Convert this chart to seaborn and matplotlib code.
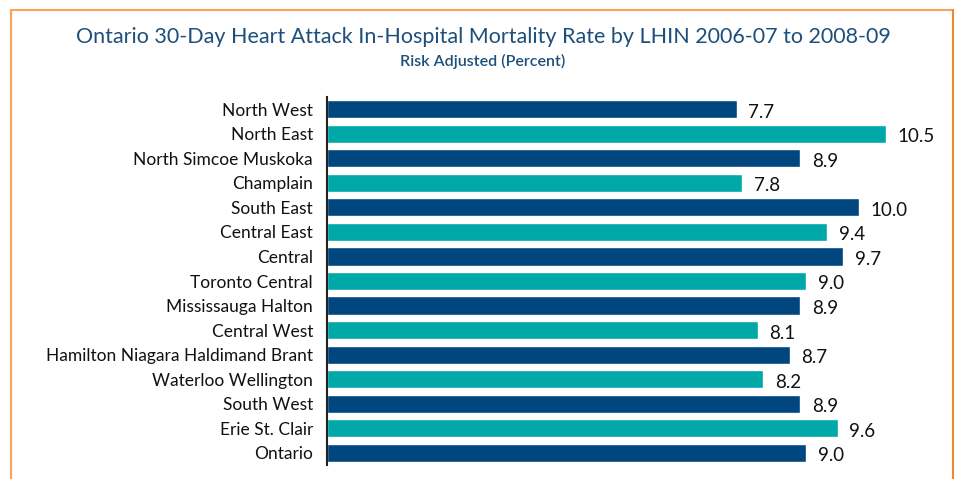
import matplotlib.pyplot as plt
import seaborn as sns
import pandas as pd

sns.set_theme(style="white")
plt.rcParams['font.family'] = ['Lato', 'DejaVu Sans']

# Data
regions = ['North West', 'North East', 'North Simcoe Muskoka', 'Champlain',
           'South East', 'Central East', 'Central', 'Toronto Central',
           'Mississauga Halton', 'Central West', 'Hamilton Niagara Haldimand Brant',
           'Waterloo Wellington', 'South West', 'Erie St. Clair', 'Ontario']
rates = [7.7, 10.5, 8.9, 7.8, 10.0, 9.4, 9.7, 9.0, 8.9, 8.1, 8.7, 8.2, 8.9, 9.6, 9.0]

navy = '#00467f'
teal = '#00a9a8'
colors = [navy if i % 2 == 0 else teal for i in range(len(regions))]

df = pd.DataFrame({'Region': regions, 'Rate': rates})

fig = plt.figure(figsize=(9.58, 4.79), dpi=100)
ax = fig.add_axes([327 / 958, 1 - 465 / 479, (940 - 327) / 958, (465 - 97) / 479])

sns.barplot(data=df, x='Rate', y='Region', hue='Region', palette=colors,
            legend=False, width=0.74, ax=ax, saturation=1)

ax.set_xlim(0, (940 - 327) / 53.2)
ax.set_ylim(14.5, -0.5)
ax.set_xlabel('')
ax.set_ylabel('')
ax.set_xticks([])
ax.tick_params(axis='y', length=0, pad=10, labelsize=12.5, labelcolor='#111111')

for s in ['top', 'right', 'bottom']:
    ax.spines[s].set_visible(False)
ax.spines['left'].set_color('#222222')
ax.spines['left'].set_linewidth(1.5)

for i, v in enumerate(rates):
    ax.text(v + 0.22, i + 0.12, f'{v:.1f}', va='center', ha='left',
            fontsize=13.5, color='#111111')

# Title and subtitle
fig.text(483 / 958, 1 - 37 / 479, 'Ontario 30-Day Heart Attack In-Hospital Mortality Rate by LHIN 2006-07 to 2008-09',
         ha='center', va='center', fontsize=15.5, color='#1d4f7c')
fig.text(483 / 958, 1 - 61 / 479, 'Risk Adjusted (Percent)',
         ha='center', va='center', fontsize=11.5, color='#1d4f7c', fontweight='semibold')

# Orange frame (open at bottom)
frame_kw = dict(color='#f7a35c', linewidth=1.5, transform=fig.transFigure)
fig.add_artist(plt.Line2D([11 / 958, 11 / 958], [0, 1 - 10 / 479], **frame_kw))
fig.add_artist(plt.Line2D([11 / 958, 953 / 958], [1 - 10 / 479, 1 - 10 / 479], **frame_kw))
fig.add_artist(plt.Line2D([953 / 958, 953 / 958], [0, 1 - 10 / 479],
                          color='#f08a2c', linewidth=1.5, transform=fig.transFigure))

fig.savefig('out.png', dpi=100)
